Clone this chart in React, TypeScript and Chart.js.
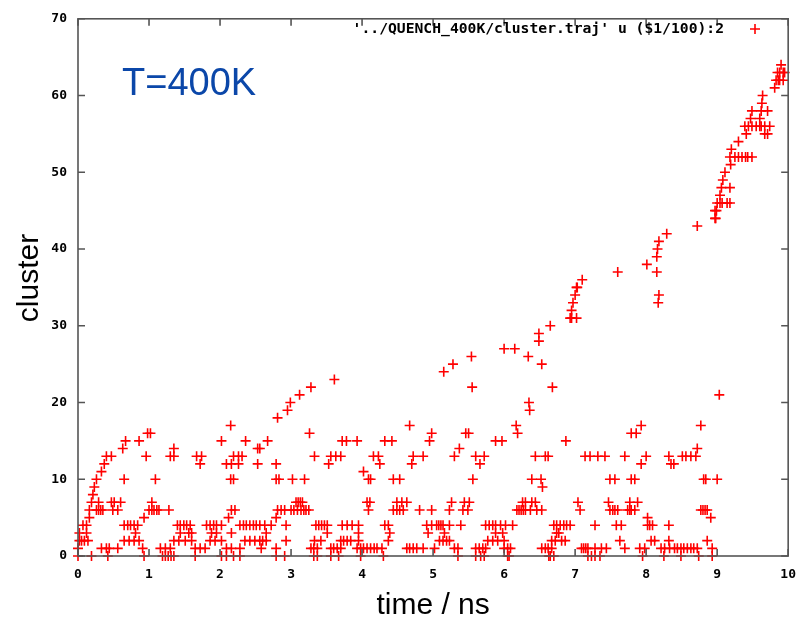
import React, { useEffect, useRef } from "react";
import { Chart, registerables } from "chart.js";

Chart.register(...registerables);

// ---- data: time (ns) of each record, grouped by cluster size ----
const size0 = [0.0, 0.19, 0.42, 0.93, 1.19, 1.23, 1.27, 1.31, 1.35, 1.65, 2.02, 2.09, 2.19, 2.28, 2.79, 2.91, 3.32, 3.37, 3.56, 3.67, 3.98, 4.3, 5.35, 5.6, 5.67, 5.72, 6.05, 6.07, 6.63, 6.65, 6.7, 7.18, 7.23, 7.28, 7.35, 7.95, 8.25, 8.49, 8.74, 8.93];
const size1 = [0.0, 0.33, 0.4, 0.44, 0.56, 0.91, 1.16, 1.23, 1.3, 1.65, 1.72, 1.79, 2.09, 2.16, 2.28, 2.58, 2.79, 3.28, 3.32, 3.37, 3.56, 3.6, 3.65, 3.7, 3.93, 3.98, 4.02, 4.07, 4.12, 4.17, 4.21, 4.28, 4.63, 4.67, 4.72, 4.77, 4.86, 5.02, 5.3, 5.35, 5.6, 5.65, 5.7, 5.74, 6.0, 6.05, 6.09, 6.53, 6.58, 6.62, 6.67, 7.09, 7.12, 7.15, 7.18, 7.28, 7.37, 7.44, 7.7, 7.91, 7.98, 8.21, 8.26, 8.33, 8.4, 8.44, 8.49, 8.53, 8.58, 8.63, 8.67, 8.72, 8.93];
const size2 = [0.02, 0.05, 0.09, 0.14, 0.65, 0.72, 0.79, 0.86, 1.35, 1.42, 1.51, 1.6, 1.86, 1.93, 2.02, 2.35, 2.42, 2.49, 2.56, 2.6, 2.65, 2.93, 3.33, 3.42, 3.7, 3.74, 3.79, 3.84, 3.95, 4.37, 5.09, 5.14, 5.19, 5.23, 5.77, 5.84, 5.91, 6.0, 6.67, 6.72, 6.81, 6.86, 7.63, 8.07, 8.12, 8.32, 8.86];
const size3 = [0.02, 0.12, 0.81, 1.44, 1.56, 1.6, 1.88, 1.95, 2.16, 2.65, 3.51, 3.95, 4.39, 4.93, 5.16, 5.88, 5.98, 6.74, 6.77];
const size4 = [0.07, 0.12, 0.65, 0.7, 0.74, 0.79, 0.84, 1.4, 1.44, 1.49, 1.53, 1.58, 1.81, 1.86, 1.91, 1.95, 2.02, 2.28, 2.33, 2.37, 2.42, 2.47, 2.51, 2.56, 2.63, 2.72, 2.93, 3.35, 3.39, 3.43, 3.47, 3.51, 3.72, 3.79, 3.86, 3.95, 4.32, 4.37, 4.91, 4.98, 5.05, 5.08, 5.11, 5.14, 5.23, 5.39, 5.74, 5.79, 5.84, 5.88, 5.95, 6.02, 6.12, 6.7, 6.74, 6.79, 6.84, 6.88, 6.93, 7.28, 7.58, 7.65, 8.02, 8.05, 8.09, 8.32];
const size5 = [0.16, 0.93, 2.12, 2.79, 8.02, 8.91];
const size6 = [0.16, 0.26, 0.29, 0.32, 0.35, 0.49, 0.56, 1.0, 1.04, 1.07, 1.11, 1.14, 1.28, 2.16, 2.21, 2.81, 2.86, 2.91, 3.0, 3.04, 3.09, 3.14, 3.18, 3.21, 3.25, 4.09, 4.44, 4.49, 4.53, 4.58, 4.81, 4.98, 5.23, 5.42, 5.49, 6.18, 6.21, 6.24, 6.27, 6.3, 6.37, 6.46, 6.53, 7.07, 7.49, 7.53, 7.56, 7.6, 7.74, 7.77, 7.79, 7.84, 8.77, 8.8, 8.83, 8.86];
const size7 = [0.19, 0.29, 0.47, 0.51, 0.6, 1.04, 3.07, 3.1, 3.13, 3.16, 4.07, 4.11, 4.49, 4.56, 4.63, 5.26, 5.44, 5.51, 6.26, 6.3, 6.39, 6.44, 7.04, 7.47, 7.77, 7.88];
const size8 = [0.21];
const size9 = [0.23, 6.54];
const size10 = [0.26, 0.65, 1.09, 2.15, 2.19, 2.79, 2.83, 3.02, 3.19, 4.09, 4.12, 4.44, 4.53, 5.56, 6.39, 6.52, 7.49, 7.56, 7.79, 7.84, 8.81, 8.84, 9.0];
const size11 = [0.33, 4.02];
const size12 = [0.37, 1.72, 2.09, 2.16, 2.26, 2.53, 2.79, 3.53, 4.25, 4.7, 5.66, 7.93, 8.35, 8.39];
const size13 = [0.4, 0.47, 0.96, 1.3, 1.35, 1.67, 1.74, 2.19, 2.26, 2.31, 3.33, 3.56, 3.63, 3.7, 4.16, 4.23, 4.72, 4.86, 5.3, 5.6, 5.72, 6.44, 6.58, 6.62, 7.14, 7.21, 7.32, 7.42, 7.7, 8.0, 8.32, 8.51, 8.56, 8.63, 8.7];
const size14 = [0.63, 1.35, 2.53, 2.56, 5.37, 8.72];
const size15 = [0.67, 0.86, 2.02, 2.36, 2.67, 3.72, 3.78, 3.93, 4.32, 4.42, 4.95, 5.88, 5.97, 6.87];
const size16 = [0.98, 1.02, 3.26, 4.98, 5.46, 5.5, 6.19, 7.79, 7.86];
const size17 = [2.15, 4.67, 6.17, 7.93, 8.77];

// ---- data: the growing clusters (time, size) ----
const growthTime = [2.81, 2.95, 6.36, 2.99, 6.35, 3.12, 9.03, 3.28, 5.55, 6.68, 3.61, 5.15, 5.28, 6.53, 5.54, 6.34, 6.0, 6.15, 6.49, 6.49, 6.65, 6.93, 6.95, 7.02, 6.95, 6.97, 8.17, 7.0, 8.18, 7.02, 7.03, 7.1, 7.6, 8.15, 8.01, 8.15, 8.16, 8.18, 8.29, 8.72, 8.97, 8.98, 8.99, 8.97, 9.0, 9.04, 9.07, 9.14, 9.18, 9.04, 9.06, 9.18, 9.08, 9.11, 9.19, 9.18, 9.25, 9.3, 9.35, 9.4, 9.43, 9.49, 9.2, 9.3, 9.41, 9.67, 9.71, 9.39, 9.44, 9.49, 9.55, 9.6, 9.62, 9.67, 9.74, 9.47, 9.6, 9.49, 9.62, 9.71, 9.63, 9.64, 9.81, 9.83, 9.86, 9.88, 9.93, 9.85, 9.88, 9.93, 9.95, 9.9];
const growthSize = [18, 19, 19, 20, 20, 21, 21, 22, 22, 22, 23, 24, 25, 25, 26, 26, 27, 27, 28, 29, 30, 31, 31, 31, 32, 33, 33, 34, 34, 35, 35, 36, 37, 37, 38, 39, 40, 41, 42, 43, 44, 44, 45, 45, 46, 46, 46, 46, 46, 47, 48, 48, 49, 50, 51, 52, 52, 52, 52, 52, 52, 52, 53, 54, 55, 55, 55, 56, 56, 56, 56, 56, 56, 56, 56, 57, 57, 58, 58, 58, 59, 60, 61, 62, 62, 62, 62, 63, 63, 63, 63, 64];

const bandSizes = [size0, size1, size2, size3, size4, size5, size6, size7, size8, size9, size10, size11, size12, size13, size14, size15, size16, size17];

const xTickValues = [0, 1, 2, 3, 4, 5, 6, 7, 8, 9, 10];
const yTickValues = [0, 10, 20, 30, 40, 50, 60, 70];

const seriesLabel = "'../QUENCH_400K/cluster.traj' u ($1/100):2";
const annotationText = "T=400K";
const xTitle = "time / ns";
const yTitle = "cluster";

const RED = "rgb(255,0,0)";

function buildPoints() {
  const pts: { x: number; y: number }[] = [];
  bandSizes.forEach((times, size) => times.forEach((t) => pts.push({ x: t, y: size })));
  growthTime.forEach((t, i) => pts.push({ x: t, y: growthSize[i] }));
  return pts;
}

const framePlugin = {
  id: "gnuplotFrame",
  afterDraw(chart: any) {
    const { ctx, chartArea } = chart;
    const { left, right, top, bottom } = chartArea;
    const xs = chart.scales.x;
    const ys = chart.scales.y;
    ctx.save();
    ctx.strokeStyle = "#555";
    ctx.lineWidth = 1.6;
    ctx.strokeRect(left, top, right - left, bottom - top);
    const tl = 7;
    ctx.beginPath();
    xTickValues.forEach((v) => {
      const px = xs.getPixelForValue(v);
      ctx.moveTo(px, bottom);
      ctx.lineTo(px, bottom - tl);
      ctx.moveTo(px, top);
      ctx.lineTo(px, top + tl);
    });
    yTickValues.forEach((v) => {
      const py = ys.getPixelForValue(v);
      ctx.moveTo(left, py);
      ctx.lineTo(left + tl, py);
      ctx.moveTo(right, py);
      ctx.lineTo(right - tl, py);
    });
    ctx.stroke();

    // annotation
    ctx.fillStyle = "#0b47a9";
    ctx.font = '38px "Liberation Sans", Arial, sans-serif';
    ctx.textAlign = "left";
    ctx.textBaseline = "alphabetic";
    ctx.fillText(annotationText, 122, 95);

    // key
    ctx.fillStyle = "#000";
    ctx.font = 'bold 14.7px "DejaVu Sans Mono", monospace';
    ctx.textAlign = "right";
    ctx.textBaseline = "middle";
    ctx.fillText(seriesLabel, 724, 29);
    ctx.strokeStyle = RED;
    ctx.lineWidth = 1.6;
    ctx.beginPath();
    ctx.moveTo(750, 29);
    ctx.lineTo(760, 29);
    ctx.moveTo(755, 24);
    ctx.lineTo(755, 34);
    ctx.stroke();

    // axis titles
    ctx.fillStyle = "#000";
    ctx.font = '30px "Liberation Sans", Arial, sans-serif';
    ctx.textAlign = "center";
    ctx.textBaseline = "middle";
    ctx.fillText(xTitle, (left + right) / 2, 606);
    ctx.translate(30, 278);
    ctx.rotate(-Math.PI / 2);
    ctx.fillText(yTitle, 0, 0);
    ctx.restore();
  },
};

export default function App() {
  const ref = useRef<HTMLCanvasElement | null>(null);
  useEffect(() => {
    if (!ref.current) return;
    const chart = new Chart(ref.current, {
      type: "scatter",
      data: {
        datasets: [
          {
            label: seriesLabel,
            data: buildPoints(),
            pointStyle: "cross",
            pointRadius: 5,
            pointBorderWidth: 1.6,
            pointBorderColor: RED,
            pointBackgroundColor: RED,
            borderColor: RED,
            backgroundColor: RED,
            clip: false as any,
          } as any,
        ],
      },
      options: {
        animation: false,
        responsive: false,
        maintainAspectRatio: false,
        layout: { padding: { top: 16, right: 13, left: 0, bottom: 0 } },
        plugins: { legend: { display: false }, tooltip: { enabled: false } },
        scales: {
          x: {
            type: "linear",
            min: 0,
            max: 10,
            afterBuildTicks: (s: any) => {
              s.ticks = xTickValues.map((v) => ({ value: v }));
            },
            ticks: { padding: 11, color: "#000", font: { family: '"DejaVu Sans Mono", monospace', size: 13, weight: "bold" }, maxRotation: 0 },
            grid: { display: false, drawTicks: false },
            border: { display: false },
            afterFit: (s: any) => {
              s.height = 72;
            },
          },
          y: {
            type: "linear",
            min: 0,
            max: 70,
            afterBuildTicks: (s: any) => {
              s.ticks = yTickValues.map((v) => ({ value: v }));
            },
            ticks: { padding: 11, color: "#000", font: { family: '"DejaVu Sans Mono", monospace', size: 13, weight: "bold" } },
            grid: { display: false, drawTicks: false },
            border: { display: false },
            afterFit: (s: any) => {
              s.width = 78;
            },
          },
        },
      },
      plugins: [framePlugin],
    });
    return () => chart.destroy();
  }, []);
  return (
    <div style={{ position: "absolute", left: 0, top: 0, width: 807, height: 628, background: "#fff" }}>
      <canvas ref={ref} width={807} height={628} style={{ display: "block" }} />
    </div>
  );
}
